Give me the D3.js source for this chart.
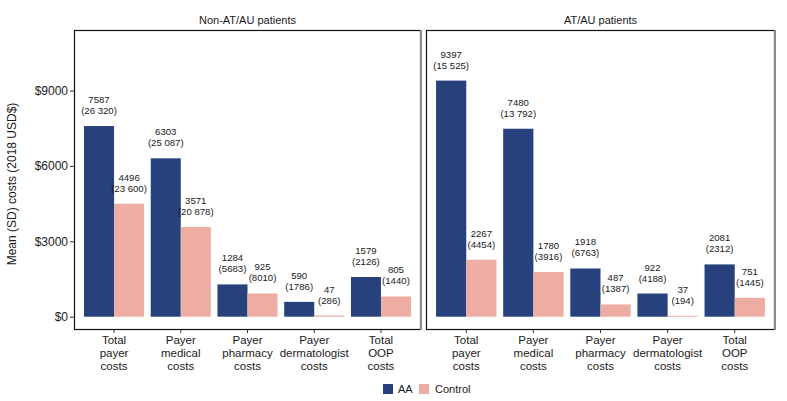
<!DOCTYPE html>
<html>
<head>
<meta charset="utf-8">
<script src="https://cdn.jsdelivr.net/npm/d3@7"></script>
<style>
  body { margin: 0; background: #fff; }
  svg { display: block; font-family: "Liberation Sans", Arial, sans-serif; }
</style>
</head>
<body>
<svg id="chart" width="787" height="401"></svg>
<script>
// ---- Data ----
const categories = ["Total payer costs", "Payer medical costs", "Payer pharmacy costs", "Payer dermatologist costs", "Total OOP costs"];
const categoryLines = [["Total", "payer", "costs"], ["Payer", "medical", "costs"], ["Payer", "pharmacy", "costs"], ["Payer", "dermatologist", "costs"], ["Total", "OOP", "costs"]];
const panels = ["Non-AT/AU patients", "AT/AU patients"];
const groups = ["AA", "Control"];

const nonATAU_AA_mean = [7587, 6303, 1284, 590, 1579];
const nonATAU_AA_sd = [26320, 25087, 5683, 1786, 2126];
const nonATAU_Control_mean = [4496, 3571, 925, 47, 805];
const nonATAU_Control_sd = [23600, 20878, 8010, 286, 1440];

const ATAU_AA_mean = [9397, 7480, 1918, 922, 2081];
const ATAU_AA_sd = [15525, 13792, 6763, 4188, 2312];
const ATAU_Control_mean = [2267, 1780, 487, 37, 751];
const ATAU_Control_sd = [4454, 3916, 1387, 194, 1445];

const yTicks = [0, 3000, 6000, 9000];
const yTickLabels = ["$0", "$3000", "$6000", "$9000"];

// ---- Build structures ----
const panelData = [
  { title: panels[0], AA: { mean: nonATAU_AA_mean, sd: nonATAU_AA_sd }, Control: { mean: nonATAU_Control_mean, sd: nonATAU_Control_sd } },
  { title: panels[1], AA: { mean: ATAU_AA_mean, sd: ATAU_AA_sd }, Control: { mean: ATAU_Control_mean, sd: ATAU_Control_sd } }
];

const colors = { AA: "#26417B", Control: "#EDADA2" };
const panelX = [[74, 421], [426, 775]];
const plotTop = 30, plotBottom = 330;

const svg = d3.select("#chart");

const y = d3.scaleLinear().domain([-530, 11410]).range([plotBottom, plotTop]);

const fmtSD = n => n >= 10000 ? d3.format(",")(n).replace(/,/g, " ") : String(n);

panelData.forEach((p, pi) => {
  const [x0, x1] = panelX[pi];
  const x = d3.scaleBand().domain(categories).range([x0, x1]).paddingInner(0.1).paddingOuter(0.15);
  const xg = d3.scaleBand().domain(groups).range([0, x.bandwidth()]);
  const g = svg.append("g");

  // title
  g.append("text")
    .attr("x", (x0 + x1) / 2).attr("y", 24)
    .attr("text-anchor", "middle")
    .attr("font-size", 11).attr("fill", "#1a1a1a")
    .text(p.title);

  // bars
  groups.forEach(grp => {
    const rows = categories.map((c, i) => ({ c, mean: p[grp].mean[i], sd: p[grp].sd[i] }));
    g.selectAll(null).data(rows).enter().append("rect")
      .attr("x", d => x(d.c) + xg(grp))
      .attr("width", xg.bandwidth())
      .attr("y", d => y(d.mean))
      .attr("height", d => y(0) - y(d.mean))
      .attr("fill", colors[grp]);

    const lbl = g.selectAll(null).data(rows).enter().append("text")
      .attr("text-anchor", "middle")
      .attr("font-size", 9.6).attr("fill", "#1a1a1a");
    lbl.append("tspan")
      .attr("x", d => x(d.c) + xg(grp) + xg.bandwidth() / 2)
      .attr("y", d => y(d.mean) - 23)
      .text(d => d.mean);
    lbl.append("tspan")
      .attr("x", d => x(d.c) + xg(grp) + xg.bandwidth() / 2)
      .attr("y", d => y(d.mean) - 12)
      .text(d => "(" + fmtSD(d.sd) + ")");
  });

  // panel border
  g.append("rect")
    .attr("x", x0 + 0.5).attr("y", plotTop + 0.5)
    .attr("width", x1 - x0 - 1).attr("height", plotBottom - plotTop - 1)
    .attr("fill", "none").attr("stroke", "#111").attr("stroke-width", 1.2);
  g.append("line")
    .attr("x1", x1).attr("x2", x1).attr("y1", plotTop).attr("y2", plotBottom)
    .attr("stroke", "#8a8a8a").attr("stroke-width", 2);

  // x ticks & labels
  categories.forEach((c, i) => {
    const cx = x(c) + x.bandwidth() / 2;
    g.append("line").attr("x1", cx).attr("x2", cx).attr("y1", plotBottom).attr("y2", plotBottom + 3)
      .attr("stroke", "#333").attr("stroke-width", 1);
    const t = g.append("text").attr("text-anchor", "middle").attr("font-size", 11.5).attr("fill", "#1a1a1a");
    categoryLines[i].forEach((ln, j) => {
      t.append("tspan").attr("x", cx).attr("y", 343.5 + j * 13.3).text(ln);
    });
  });

  // y axis on first panel
  if (pi === 0) {
    const ay = svg.append("g").attr("transform", `translate(${x0},0)`)
      .call(d3.axisLeft(y).tickValues(yTicks).tickFormat((d, i) => yTickLabels[i]).tickSize(4).tickPadding(2));
    ay.select(".domain").remove();
    ay.selectAll("line").attr("stroke", "#333");
    ay.selectAll("text").attr("font-size", 12).attr("fill", "#1a1a1a")
      .attr("font-family", "'Liberation Sans', Arial, sans-serif");
  }
});

// y axis title
svg.append("text")
  .attr("transform", "translate(16,184) rotate(-90)")
  .attr("text-anchor", "middle")
  .attr("font-size", 12).attr("fill", "#1a1a1a")
  .text("Mean (SD) costs (2018 USD$)");

// legend
const legendItems = [{ k: "AA", sx: 383, tx: 398 }, { k: "Control", sx: 419, tx: 435 }];
legendItems.forEach(it => {
  svg.append("rect").attr("x", it.sx).attr("y", 384).attr("width", 10).attr("height", 10).attr("fill", colors[it.k]);
  svg.append("text").attr("x", it.tx).attr("y", 393).attr("font-size", 11).attr("fill", "#1a1a1a").text(it.k);
});
</script>
</body>
</html>
